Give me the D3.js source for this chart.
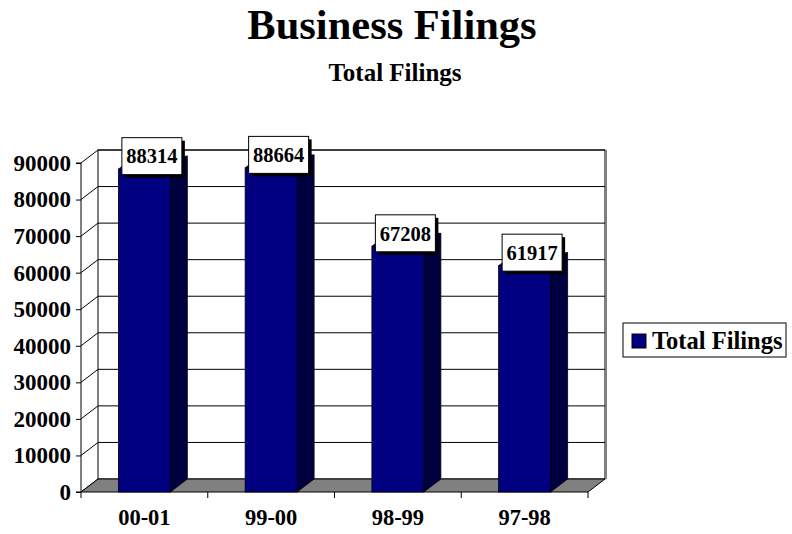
<!DOCTYPE html>
<meta charset="utf-8" />
<style>
  body { margin: 0; background: #fff; }
  text { font-family: "Liberation Serif", "Times New Roman", serif; font-weight: bold; fill: #000; }
</style>
<body>
<div id="chart"></div>
<script src="https://d3js.org/d3.v7.min.js"></script>
<script>
// data
var categories = ["00-01", "99-00", "98-99", "97-98"];
var filings = [88314, 88664, 67208, 61917];
var yTicks = [0, 10000, 20000, 30000, 40000, 50000, 60000, 70000, 80000, 90000];
var seriesName = "Total Filings";

var W = 792, H = 534;
var depthX = 17, depthY = -13; // 3d offset of the back wall

var svg = d3.select("#chart").append("svg")
  .attr("width", W)
  .attr("height", H);

// scales
var x = d3.scaleBand().domain(categories).range([81, 588]).padding(0);
var y = d3.scaleLinear().domain([0, 90000]).range([492, 163]);
var barW = x.bandwidth() * 0.41;

// titles
svg.append("text")
  .attr("x", 392).attr("y", 39)
  .attr("text-anchor", "middle")
  .style("font-size", "42.5px")
  .text("Business Filings");
svg.append("text")
  .attr("x", 395).attr("y", 81)
  .attr("text-anchor", "middle")
  .style("font-size", "25px")
  .text("Total Filings");

// back wall
var x0 = x.range()[0], x1 = x.range()[1];
svg.append("rect")
  .attr("x", x0 + depthX).attr("y", y(90000) + depthY)
  .attr("width", x1 - x0).attr("height", y(0) - y(90000))
  .attr("fill", "#fff").attr("stroke", "#000");
svg.append("line")
  .attr("x1", x1 + depthX + 1).attr("x2", x1 + depthX + 1)
  .attr("y1", y(90000) + depthY).attr("y2", y(0) + depthY)
  .attr("stroke", "#808080").attr("stroke-width", 2);

// gridlines on back wall + diagonals on side wall
svg.append("g").selectAll("line")
  .data(yTicks.filter(function(d) { return d > 0; }))
  .enter().append("line")
  .attr("x1", x0 + depthX).attr("x2", x1 + depthX)
  .attr("y1", function(d) { return y(d) + depthY; })
  .attr("y2", function(d) { return y(d) + depthY; })
  .attr("stroke", "#000");
svg.append("g").selectAll("line")
  .data(yTicks)
  .enter().append("line")
  .attr("x1", x0).attr("x2", x0 + depthX)
  .attr("y1", function(d) { return y(d); })
  .attr("y2", function(d) { return y(d) + depthY; })
  .attr("stroke", "#000");

// floor
svg.append("polygon")
  .attr("points", [[x0, y(0)], [x1, y(0)], [x1 + depthX, y(0) + depthY], [x0 + depthX, y(0) + depthY]].join(" "))
  .attr("fill", "#808080").attr("stroke", "#000");

// bars
var bars = svg.append("g").selectAll("g")
  .data(filings)
  .enter().append("g");

function bx(d, i) { return x(categories[i]) + (x.bandwidth() - barW) / 2; }

bars.append("polygon")
  .attr("points", function(d, i) {
    var l = bx(d, i), r = l + barW, t = y(d);
    return [[r, t], [r + depthX, t + depthY], [r + depthX, y(0) + depthY], [r, y(0)]].join(" ");
  })
  .attr("fill", "#000040").attr("stroke", "#000").attr("stroke-width", 0.8);
bars.append("polygon")
  .attr("points", function(d, i) {
    var l = bx(d, i), r = l + barW, t = y(d);
    return [[l, t], [l + depthX, t + depthY], [r + depthX, t + depthY], [r, t]].join(" ");
  })
  .attr("fill", "#0000a0").attr("stroke", "#000").attr("stroke-width", 0.8);
bars.append("rect")
  .attr("x", bx)
  .attr("y", function(d) { return y(d); })
  .attr("width", barW)
  .attr("height", function(d) { return y(0) - y(d); })
  .attr("fill", "#000080").attr("stroke", "#000").attr("stroke-width", 0.8);

// value labels with shadowed boxes
var boxW = 60, boxH = 37;
var labels = svg.append("g").selectAll("g")
  .data(filings)
  .enter().append("g")
  .attr("transform", function(d, i) {
    var cx = x(categories[i]) + x.bandwidth() / 2 + 7.5;
    var cy = y(d) - 13;
    return "translate(" + cx + "," + cy + ")";
  });
labels.append("rect")
  .attr("x", -boxW / 2 + 3).attr("y", -boxH / 2 + 3)
  .attr("width", boxW).attr("height", boxH)
  .attr("fill", "#000");
labels.append("rect")
  .attr("x", -boxW / 2).attr("y", -boxH / 2)
  .attr("width", boxW).attr("height", boxH)
  .attr("fill", "#fff").attr("stroke", "#000");
labels.append("text")
  .attr("text-anchor", "middle")
  .attr("dy", "0.35em")
  .style("font-size", "20.5px")
  .text(function(d) { return d; });

// y axis
var yAxis = svg.append("g")
  .attr("transform", "translate(" + x0 + ",0)")
  .call(d3.axisLeft(y).tickValues(yTicks).tickFormat(d3.format("d")).tickSize(5).tickPadding(5));
yAxis.select(".domain").attr("stroke", "#000").attr("d", "M-5," + y(90000) + "H0V" + y(0) + "H-5");
yAxis.selectAll("text").style("font-size", "23px");

// x axis: labels at band centres, ticks at band edges
var xAxis = svg.append("g")
  .attr("transform", "translate(0," + y(0) + ")")
  .call(d3.axisBottom(x).tickSize(0).tickPadding(17));
xAxis.select(".domain").remove();
xAxis.selectAll("text").style("font-size", "22.5px").attr("dy", "0.71em");
svg.append("g").selectAll("line")
  .data(categories.map(function(c) { return x(c); }).concat([x1]))
  .enter().append("line")
  .attr("x1", function(d) { return d; }).attr("x2", function(d) { return d; })
  .attr("y1", y(0)).attr("y2", y(0) + 6)
  .attr("stroke", "#000");

// legend
var legend = svg.append("g").attr("transform", "translate(623,323)");
legend.append("rect")
  .attr("width", 163).attr("height", 34)
  .attr("fill", "#fff").attr("stroke", "#000");
legend.append("rect")
  .attr("x", 9).attr("y", 11).attr("width", 14).attr("height", 14)
  .attr("fill", "#000080").attr("stroke", "#000");
legend.append("text")
  .attr("x", 29).attr("y", 26)
  .style("font-size", "24.5px")
  .text(seriesName);
</script>
</body>
